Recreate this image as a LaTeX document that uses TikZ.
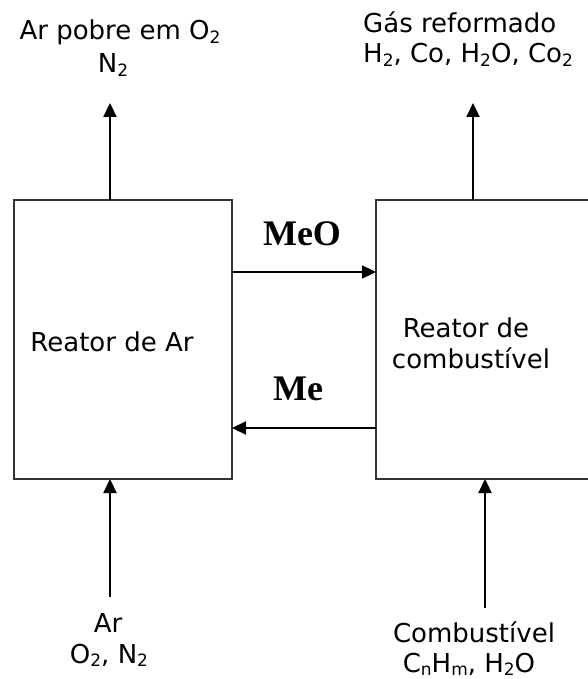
\documentclass[tikz,border=0pt]{standalone}
\usepackage{fontspec}
\setmainfont{DejaVu Sans}
\newfontfamily\tmsfont{Liberation Serif}
\usetikzlibrary{arrows.meta}
\newcommand{\sbs}[1]{\raisebox{-0.12em}{\fontsize{17}{17}\selectfont #1}}
\begin{document}
\begin{tikzpicture}[x=1pt,y=-1pt,
  reactor/.style={draw=black!80, line width=1.8pt, minimum width=218pt, minimum height=279pt, inner sep=0pt, outer sep=0pt},
  lbl/.style={font=\fontsize{26}{30}\selectfont, inner sep=0pt, anchor=base},
  flow/.style={line width=2.3pt, -{Triangle[length=14pt,width=13pt]}},
  metal/.style={font=\tmsfont\bfseries\fontsize{36}{40}\selectfont, inner sep=0pt, anchor=base}]
\useasboundingbox (0,0) rectangle (587,679);
% reactors
\node[reactor, anchor=north west] (ar) at (14,200) {};
\node[reactor, minimum width=225pt, anchor=north west] (fuel) at (376,200) {};
\node[lbl] (artxt) at (112,351) {Reator de Ar};
\node[lbl] (fueltxt1) at (466,337) {Reator de};
\node[lbl] (fueltxt2) at (471,368) {combustível};
% stream labels
\node[lbl] (outar1) at (120,40) {Ar pobre em O\sbs{2}};
\node[lbl] (outar2) at (113,73) {N\sbs{2}};
\node[lbl, anchor=base west] (outfuel1) at (363,33) {Gás reformado};
\node[lbl, anchor=base west] (outfuel2) at (363,63) {H\sbs{2}, Co, H\sbs{2}O, Co\sbs{2}};
\node[lbl] (inar1) at (108,632) {Ar};
\node[lbl] (inar2) at (109,663) {O\sbs{2}, N\sbs{2}};
\node[lbl] (infuel1) at (474,642) {Combustível};
\node[lbl] (infuel2) at (469,672) {C\sbs{n}H\sbs{m}, H\sbs{2}O};
\node[metal] (meo) at (302,245) {MeO};
\node[metal] (me) at (298,400) {Me};
% free ends
\coordinate (a2) at (110,103);
\coordinate (b2) at (473,103);
\coordinate (c1) at (110,597);
\coordinate (d1) at (485,608);
% connectors
\draw[flow] (ar.north -| a2) -- (a2);
\draw[flow] (fuel.north -| b2) -- (b2);
\draw[flow] (c1) -- (ar.south -| c1);
\draw[flow] (d1) -- (fuel.south -| d1);
\draw[flow] (ar.east |- 0,272) -- (fuel.west |- 0,272);
\draw[flow] (fuel.west |- 0,428) -- (ar.east |- 0,428);
\end{tikzpicture}
\end{document}
